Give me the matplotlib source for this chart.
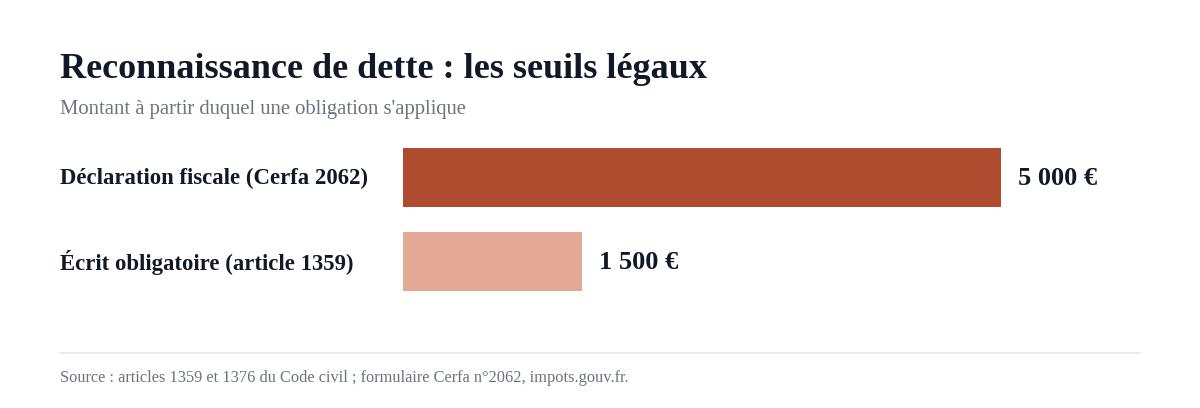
import matplotlib
matplotlib.use("Agg")
import matplotlib.pyplot as plt
from matplotlib.lines import Line2D
from matplotlib.transforms import blended_transform_factory

W, H = 1200, 408
FONT = ["Liberation Serif", "DejaVu Serif"]

TITLE = "Reconnaissance de dette : les seuils légaux"
SUBTITLE = "Montant à partir duquel une obligation s'applique"
SOURCE = "Source : articles 1359 et 1376 du Code civil ; formulaire Cerfa n°2062, impots.gouv.fr."

categories = ["Déclaration fiscale (Cerfa 2062)", "Écrit obligatoire (article 1359)"]
values = [5000, 1500]
value_labels = ["5 000 €", "1 500 €"]
colors = ["#AF4B2F", "#E4A896"]

DARK = "#111827"
GREY = "#6B7280"

plt.rcParams["font.family"] = FONT

fig = plt.figure(figsize=(W / 100, H / 100), dpi=100)
fig.patch.set_facecolor("white")


def fx(px):
    return px / W


def fy(py):
    return 1 - py / H


# bars area: x from 403 px, 5000 -> 598 px wide; rows centred at 177.5 and 261.5 px
ax = fig.add_axes([fx(403), fy(303.5), fx(598), (303.5 - 135.5) / H])
ypos = list(range(len(categories)))
ax.barh(ypos, values, height=0.70, color=colors)
ax.set_xlim(0, 5000)
ax.set_ylim(1.5, -0.5)
ax.axis("off")

for y, v, lab in zip(ypos, values, value_labels):
    ax.annotate(lab, (v, y), xytext=(12, -1), textcoords="offset points",
                ha="left", va="center", fontsize=19, fontweight="bold", color=DARK)

# category labels on the left
lab_tr = blended_transform_factory(fig.transFigure, ax.transData)
for y, cat in zip(ypos, categories):
    ax.annotate(cat, (fx(60), y), xycoords=lab_tr, xytext=(0, -1),
                textcoords="offset points", ha="left", va="center",
                fontsize=16.4, fontweight="bold", color=DARK)

fig.text(fx(60), fy(78), TITLE, ha="left", va="baseline", fontsize=26,
         fontweight="bold", color=DARK)
fig.text(fx(60), fy(114), SUBTITLE, ha="left", va="baseline", fontsize=14.9, color=GREY)

fig.add_artist(Line2D([fx(60), fx(1140)], [fy(353), fy(353)], color="#E5E7EB", lw=1.2))
fig.text(fx(60), fy(382), SOURCE, ha="left", va="baseline", fontsize=11.8, color=GREY)

fig.savefig("out.png", dpi=100)
